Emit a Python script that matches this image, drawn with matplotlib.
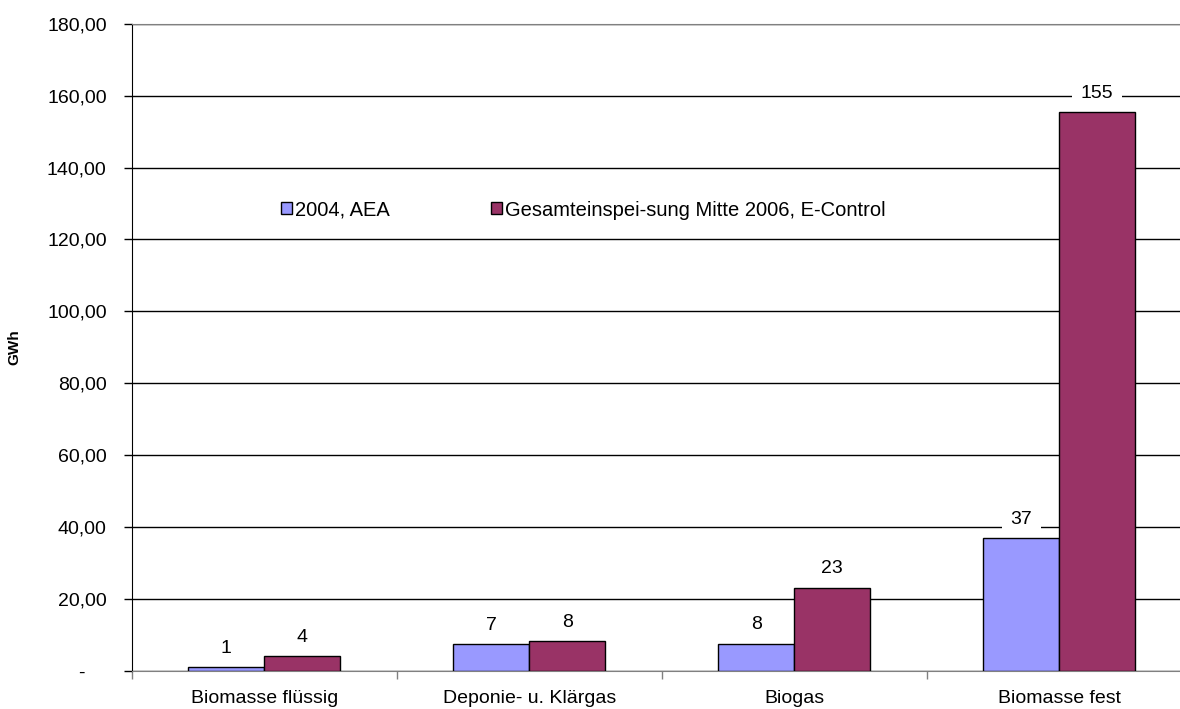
import matplotlib
matplotlib.use('Agg')
import matplotlib.pyplot as plt
import numpy as np

# --- DADOS ---
categorias = ['Biomasse flüssig', 'Deponie- u. Klärgas', 'Biogas', 'Biomasse fest']
serie_2004 = [1.05, 7.4, 7.6, 36.9]
serie_2006 = [4.2, 8.3, 23.2, 155.4]
nomes_series = ['2004, AEA', 'Gesamteinspei-sung Mitte 2006, E-Control']
y_ticks = [0, 20, 40, 60, 80, 100, 120, 140, 160, 180]
y_tick_labels = ['-    ', '20,00', '40,00', '60,00', '80,00', '100,00',
                 '120,00', '140,00', '160,00', '180,00']

# --- ESTILO ---
plt.rcParams['font.family'] = ['Liberation Sans', 'DejaVu Sans']
cor_azul = '#9999FF'
cor_vinho = '#993366'
largura = 0.287

fig = plt.figure(figsize=(11.8, 7.09), dpi=100)
ax = fig.add_axes([131.7 / 1180, 38 / 709, 1060 / 1180, 647.3 / 709])

x = np.arange(len(categorias))
b1 = ax.bar(x - largura / 2, serie_2004, largura, color=cor_azul,
            edgecolor='black', linewidth=1, label=nomes_series[0], zorder=3)
b2 = ax.bar(x + largura / 2, serie_2006, largura, color=cor_vinho,
            edgecolor='black', linewidth=1, label=nomes_series[1], zorder=3)

# rótulos dos valores (arredondados) com fundo branco
for barras, valores in [(b1, serie_2004), (b2, serie_2006)]:
    for rect, v in zip(barras, valores):
        ax.annotate(f'{round(v)}', (rect.get_x() + rect.get_width() / 2, v),
                    xytext=(0, 13.5), textcoords='offset points',
                    ha='center', va='center', fontsize=14, zorder=4,
                    bbox=dict(boxstyle='square,pad=0.45', fc='white', ec='none'))

ax.set_xlim(-0.5, len(categorias) - 0.5)
ax.set_ylim(0, 180)
ax.set_yticks(y_ticks)
ax.set_yticklabels(y_tick_labels, fontsize=14)
ax.yaxis.grid(True, color='black', linewidth=1, zorder=0)
ax.tick_params(axis='y', direction='out', length=6, width=1, pad=12)

ax.set_xticks(x)
ax.set_xticklabels(categorias, fontsize=14)
ax.set_xticks(np.arange(len(categorias) + 1) - 0.5, minor=True)
ax.tick_params(axis='x', which='major', length=0, pad=14)
ax.tick_params(axis='x', which='minor', direction='out', length=6,
               width=1, color='#808080')

ax.set_ylabel('GWh', fontsize=11, fontweight='bold')
ax.yaxis.set_label_coords(-0.104, 0.5)

for lado in ['top', 'right']:
    ax.spines[lado].set_color('#808080')
ax.spines['bottom'].set_color('#808080')
ax.spines['left'].set_color('black')

leg = fig.legend(loc='center left', bbox_to_anchor=(281 / 1180, 1 - 210 / 709),
                 ncol=2, frameon=False, fontsize=14.5, handlelength=0.55,
                 handleheight=0.55, handletextpad=0.15, columnspacing=5.0,
                 borderpad=0, borderaxespad=0)

fig.savefig('out.png', dpi=100)
